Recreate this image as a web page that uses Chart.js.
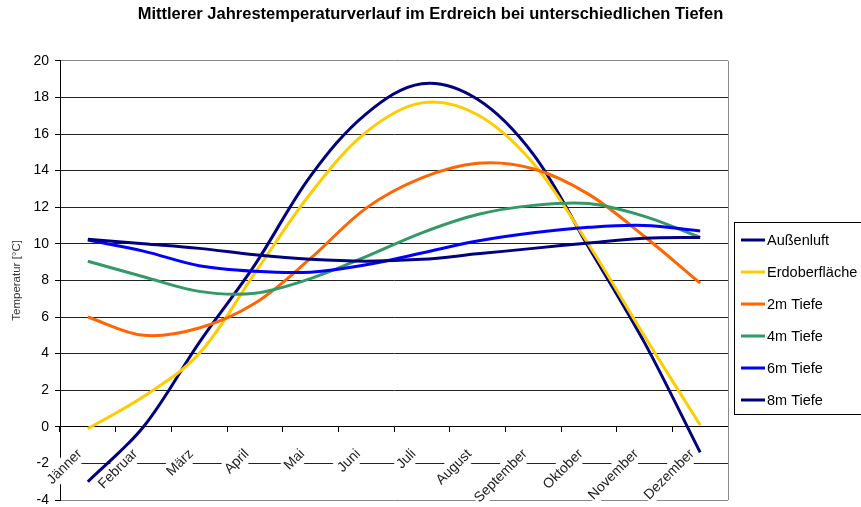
<!DOCTYPE html>
<html>
<head>
<meta charset="utf-8">
<script src="https://cdn.jsdelivr.net/npm/chart.js@4.4.0/dist/chart.umd.min.js"></script>
<style>
  html, body { margin: 0; padding: 0; background: #fff; }
  canvas { display: block; }
</style>
</head>
<body>
<canvas id="tempChart" width="861" height="507"></canvas>
<script>
// Monatswerte (°C)
const months = ['Jänner', 'Februar', 'März', 'April', 'Mai', 'Juni', 'Juli', 'August', 'September', 'Oktober', 'November', 'Dezember'];
const aussenluft = [-3.0, 0.0, 4.6, 8.85, 13.7, 17.1, 18.75, 17.9, 14.9, 9.8, 4.6, -1.4];
const erdoberflaeche = [-0.1, 1.65, 4.0, 8.4, 12.75, 16.1, 17.7, 17.05, 14.4, 9.95, 4.95, 0.1];
const tiefe2m = [6.0, 5.0, 5.4, 6.75, 9.2, 11.95, 13.6, 14.4, 14.1, 12.7, 10.4, 7.85];
const tiefe4m = [9.05, 8.2, 7.4, 7.3, 8.1, 9.3, 10.6, 11.6, 12.1, 12.2, 11.5, 10.35];
const tiefe6m = [10.2, 9.6, 8.8, 8.5, 8.45, 8.85, 9.5, 10.15, 10.6, 10.9, 11.0, 10.7];
const tiefe8m = [10.25, 10.0, 9.75, 9.4, 9.15, 9.05, 9.15, 9.45, 9.75, 10.05, 10.3, 10.35];

const seriesNames = ['Außenluft', 'Erdoberfläche', '2m Tiefe', '4m Tiefe', '6m Tiefe', '8m Tiefe'];
const seriesData = [aussenluft, erdoberflaeche, tiefe2m, tiefe4m, tiefe6m, tiefe8m];
const seriesColors = ['#000080', '#ffcc00', '#ff6600', '#339966', '#0000ff', '#000080'];

Chart.defaults.font.family = '"Liberation Sans", Arial, sans-serif';
Chart.defaults.color = '#000';

// Rahmen rechts + Legende im Kasten (wie Excel)
const boxLegend = {
  id: 'boxLegend',
  afterDraw(chart) {
    const ctx = chart.ctx;
    const area = chart.chartArea;
    ctx.save();
    ctx.strokeStyle = '#888';
    ctx.lineWidth = 1;
    ctx.beginPath();
    ctx.moveTo(Math.round(area.right) + 0.5, area.top);
    ctx.lineTo(Math.round(area.right) + 0.5, area.bottom);
    ctx.stroke();

    const left = Math.round(area.right) + 6;
    const top = 222;
    const rowH = 32;
    const sets = chart.data.datasets;
    ctx.strokeStyle = '#000';
    ctx.strokeRect(left + 0.5, top + 0.5, 150, 18 + (sets.length - 1) * rowH + 14);
    ctx.font = '14.5px "Liberation Sans", Arial, sans-serif';
    ctx.textBaseline = 'middle';
    ctx.fillStyle = '#000';
    sets.forEach((ds, i) => {
      const y = top + 18 + i * rowH;
      ctx.strokeStyle = ds.borderColor;
      ctx.lineWidth = 3;
      ctx.beginPath();
      ctx.moveTo(left + 7, y);
      ctx.lineTo(left + 31, y);
      ctx.stroke();
      ctx.fillText(ds.label, left + 33, y + 1);
    });
    ctx.restore();
  }
};

const ctx = document.getElementById('tempChart').getContext('2d');
const chart = new Chart(ctx, {
  type: 'line',
  data: {
    labels: months,
    datasets: seriesNames.map((name, i) => ({
      label: name,
      data: seriesData[i],
      borderColor: seriesColors[i],
      backgroundColor: seriesColors[i],
      borderWidth: 3,
      pointRadius: 0,
      tension: 0.35,
      fill: false,
      order: seriesNames.length - i
    }))
  },
  options: {
    responsive: false,
    animation: false,
    layout: { padding: { left: 0, right: 0, top: 0, bottom: 7 } },
    plugins: {
      legend: { display: false },
      tooltip: { enabled: false },
      title: {
        display: true,
        text: 'Mittlerer Jahrestemperaturverlauf im Erdreich bei unterschiedlichen Tiefen',
        font: { size: 16.5, weight: 'bold' },
        color: '#000',
        padding: { top: 5, bottom: 36 }
      }
    },
    scales: {
      x: {
        type: 'category',
        offset: true,
        position: { y: 0 },
        afterFit(scale) { scale.height = 0; },
        grid: { drawOnChartArea: false, drawTicks: true, tickLength: 5, offset: true, color: '#000' },
        border: { color: '#000', width: 1 },
        ticks: {
          autoSkip: false,
          minRotation: 45,
          maxRotation: 45,
          padding: 14,
          labelOffset: -14,
          font: { size: 14 },
          color: '#222',
          showLabelBackdrop: true,
          backdropColor: '#fff',
          backdropPadding: 1,
          z: 1
        }
      },
      y: {
        min: -4,
        max: 20,
        afterFit(scale) {
          scale.width = 60;
          scale.paddingTop = 0;
          scale.paddingBottom = 0;
        },
        grid: {
          color: (c) => (c.tick && (c.tick.value === 20 || c.tick.value === -4)) ? '#888' : '#222',
          tickColor: '#000',
          tickLength: 5
        },
        border: { color: '#000', width: 1 },
        ticks: { stepSize: 2, padding: 6, font: { size: 14, lineHeight: 1 }, color: '#000' },
        title: {
          display: true,
          text: 'Temperatur [°C]',
          font: { size: 11.5 },
          color: '#333',
          padding: { top: 10, bottom: 0 }
        }
      },
      // unsichtbare Achse rechts: hält Platz für die Legende frei
      legendSpace: {
        type: 'linear',
        position: 'right',
        afterFit(scale) { scale.width = 133; },
        grid: { display: false, drawTicks: false },
        border: { display: false },
        ticks: { display: false }
      }
    }
  },
  plugins: [boxLegend]
});
</script>
</body>
</html>
